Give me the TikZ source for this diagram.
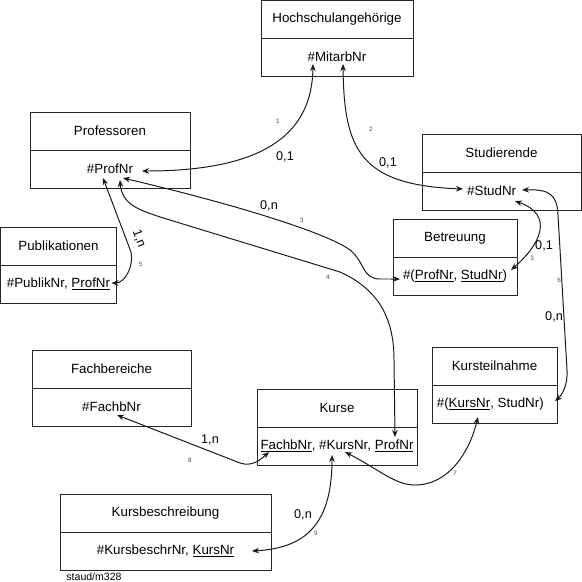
\documentclass[tikz,border=0pt]{standalone}
\usepackage{fontspec}
\setmainfont{Liberation Sans}
\usepackage{tikz}
\usetikzlibrary{positioning, arrows.meta, calc}
\tikzset{
  relhead/.style={rectangle, draw=black!85, line width=0.7pt, inner sep=0pt, outer sep=0pt, minimum height=0.95cm, text centered, font=\fontsize{9.5}{11}\selectfont},
  relkey/.style={rectangle, draw=black!85, line width=0.7pt, inner sep=0pt, outer sep=0pt, minimum height=0.95cm, text centered, font=\fontsize{9.5}{11}\selectfont},
  link/.style={draw=black!90, line width=0.7pt, {Stealth[length=5pt,width=4pt]}-{Stealth[length=5pt,width=4pt]}},
  card/.style={font=\fontsize{9}{10}\selectfont, inner sep=1pt},
  num/.style={font=\fontsize{4.5}{5}\selectfont, text=black!70, inner sep=1pt}
}
\newcommand{\relbox}[6]{
    \node[relhead, minimum width=#4*0.025cm, anchor=north west] (#1) at (#2,#3) {#5};
    \node[relkey, minimum width=#4*0.025cm, anchor=north] (#1-key) at (#1.south) {#6};
}

\begin{document}
\begin{tikzpicture}[x=0.025cm, y=-0.025cm]
    \useasboundingbox (0,0) rectangle (582,582);

    % 1. Relationen
    \relbox{hoch}{261}{0}{152}{Hochschulangehörige}{\#MitarbNr}
    \relbox{prof}{30}{112}{160}{Professoren}{\#ProfNr}
    \relbox{stud}{422}{134}{159}{Studierende}{\#StudNr\hspace*{14pt}}
    \relbox{publ}{0.5}{227}{116}{Publikationen}{\#PublikNr, \underline{ProfNr}}
    \relbox{betr}{393}{219}{124}{Betreuung}{\#(\underline{ProfNr}, \underline{StudNr})}
    \relbox{fach}{32}{350}{159}{Fachbereiche}{\#FachbNr}
    \relbox{kurse}{257}{389}{160}{Kurse}{\underline{FachbNr}, \#KursNr, \underline{ProfNr}}
    \relbox{kteil}{432}{347}{125}{Kursteilnahme}{\#(\underline{KursNr}, StudNr)\hspace*{6pt}}
    \relbox{kbes}{60}{494}{211}{Kursbeschreibung}{\#KursbeschrNr, \underline{KursNr}}

    % ==========================================
    % 2. Beziehungen
    % ==========================================

    % 1: Professoren - Hochschulangehoerige
    \draw[link] ($(prof-key)+(32,2)$) .. controls (270,171) and (312,130) .. ($(hoch-key)+(-24,7)$);
    \node[num] (n1) at (278,121) {1};
    \node[card] (c1) at (285,157) {0,1};

    % 2: Hochschulangehoerige - Studierende
    \draw[link] ($(hoch-key)+(6,7)$) .. controls (344,150) and (360,185) .. ($(stud-key)+(-38.5,-2)$);
    \node[num] (n2) at (371,129) {2};
    \node[card] (c2) at (388,163) {0,1};

    % 3: Professoren - Betreuung
    \draw[link] ($(prof-key)+(13,9)$) .. controls (250,208) and (330,235) .. (350,250)
        .. controls (365,262) and (362,279) .. (380,279) -- ($(betr-key)+(-55,3)$);
    \node[card] (c3) at (269,206) {0,n};
    \node[num] (n3) at (302,220) {3};

    % 4: Professoren - Kurse
    \draw[link] ($(prof-key)+(10,11)$) .. controls (122,205) and (140,210) .. (160,217)
        -- (340,272) .. controls (380,290) and (394,320) .. (394,360) -- ($(kurse-key)+(58,-9)$);
    \node[num] (n4) at (328,277) {4};

    % 5: Professoren - Publikationen
    \draw[link] ($(prof-key)+(-7,9)$) -- (131,252)
        .. controls (134,268) and (124,283) .. ($(publ-key)+(53,-1)$);
    \node[card, rotate=-70] (c5) at (139,239) {1,n};
    \node[num] (n5) at (141,264) {5};

    % 6: Studierende - Kursteilnahme
    \draw[link] ($(stud-key)+(20.5,-1)$) .. controls (550,189) and (557,195) .. (558,215)
        -- (567,370) .. controls (568,385) and (562,395) .. ($(kteil-key)+(60.5,-3)$);
    \node[num] (n6) at (559,280) {6};
    \node[card] (c6) at (554,317) {0,n};

    % 3: Studierende - Betreuung
    \draw[link] ($(stud-key)+(13.5,10)$) .. controls (555,215) and (540,245) .. ($(betr-key)+(56,-6)$);
    \node[card] (c10) at (544,246) {0,1};
    \node[num] (n10) at (532,258) {3};

    % 7: Kurse - Kursteilnahme
    \draw[link] ($(kurse-key)+(8,6)$) .. controls (380,470) and (395,485) .. (415,485)
        .. controls (450,485) and (470,450) .. ($(kteil-key)+(-16.5,13)$);
    \node[num] (n7) at (455,473) {7};

    % 8: Fachbereiche - Kurse
    \draw[link] ($(fach-key)+(5.5,8)$) -- (240,463) .. controls (252,467) and (260,460) .. ($(kurse-key)+(-68,6)$);
    \node[card] (c8) at (210,440) {1,n};
    \node[num] (n8) at (190,460) {8};

    % 9: Kurse - Kursbeschreibung
    \draw[link] ($(kurse-key)+(-5,9)$) .. controls (332,525) and (305,548) .. ($(kbes-key)+(86.5,0)$);
    \node[card] (c9) at (303,515) {0,n};
    \node[num] (n9) at (316,533) {9};

    % Kuerzel
    \node[font=\fontsize{7.5}{8}\selectfont, inner sep=0pt] (sig) at (94,577) {staud/m328};

\end{tikzpicture}
\end{document}
